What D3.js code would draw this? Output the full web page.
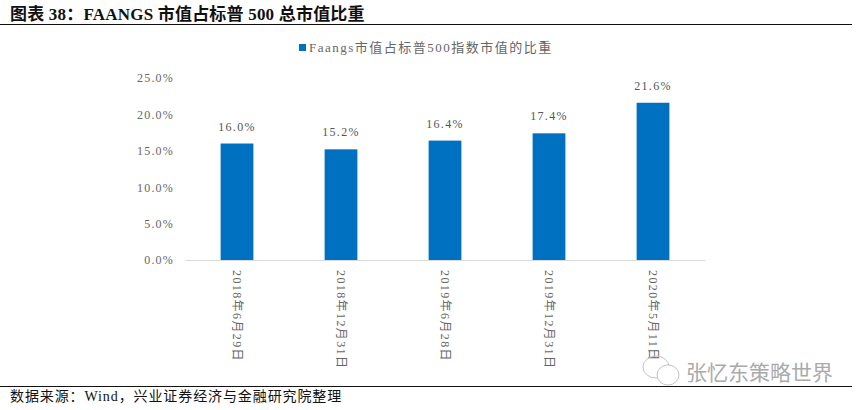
<!DOCTYPE html>
<html><head><meta charset="utf-8">
<script src="https://cdn.jsdelivr.net/npm/d3@7/dist/d3.min.js"></script>
<style>html,body{margin:0;padding:0;background:#fff}svg{display:block}</style>
</head><body><svg id="c" width="859" height="410"></svg>
<script>
const categories=["2018年6月29日","2018年12月31日","2019年6月28日","2019年12月31日","2020年5月11日"];
const values=[16.0,15.2,16.4,17.4,21.6];
const yTicks=[0,5,10,15,20,25];
const seriesName="Faangs市值占标普500指数市值的比重";
const titleText="图表 38\uFF1AFAANGS 市值占标普 500 总市值比重";
const sourceText="数据来源\uFF1AWind\uFF0C兴业证券经济与金融研究院整理";
const watermark="张忆东策略世界";
const serif="'Liberation Serif','Noto Sans CJK SC',serif";
const svg=d3.select("#c");
const m={left:185,right:705,top:78,bottom:260};
const x=d3.scaleBand().domain(categories).range([m.left,m.right]).paddingInner(0.685).paddingOuter(0.3425);
const y=d3.scaleLinear().domain([0,25]).range([m.bottom,m.top]);
svg.append("text").attr("x",10).attr("y",20).attr("font-family",serif).attr("font-weight",700).attr("font-size",17).attr("letter-spacing",0.2).attr("fill","#111").text(titleText);
svg.append("line").attr("x1",0).attr("x2",852).attr("y1",24.5).attr("y2",24.5).attr("stroke","#111").attr("stroke-width",1);
svg.append("line").attr("x1",0).attr("x2",852).attr("y1",386.5).attr("y2",386.5).attr("stroke","#111").attr("stroke-width",1);
svg.append("text").attr("x",10).attr("y",401).attr("font-family",serif).attr("font-size",14).attr("letter-spacing",0.9).attr("fill","#111").text(sourceText);
svg.append("rect").attr("x",299).attr("y",44).attr("width",7).attr("height",7).attr("fill","#0070c0");
svg.append("text").attr("x",309).attr("y",52).attr("font-family",serif).attr("font-size",13).attr("letter-spacing",1.5).attr("fill","#666").text(seriesName);
const yAxis=d3.axisLeft(y).tickValues(yTicks).tickSize(0).tickPadding(11).tickFormat(d=>d.toFixed(1)+"%");
const ya=svg.append("g").attr("transform",`translate(${m.left},0)`).call(yAxis);
ya.select(".domain").remove();
ya.selectAll("text").attr("font-family",serif).attr("font-size",12).attr("letter-spacing",1.2).attr("fill","#666");
svg.selectAll("rect.bar").data(values).join("rect").attr("class","bar")
 .attr("x",(d,i)=>x(categories[i])).attr("y",d=>y(d)).attr("width",x.bandwidth()).attr("height",d=>y(0)-y(d)).attr("fill","#0070c0");
svg.selectAll("text.val").data(values).join("text").attr("class","val")
 .attr("x",(d,i)=>x(categories[i])+x.bandwidth()/2).attr("y",d=>y(d)-13).attr("text-anchor","middle")
 .attr("font-family",serif).attr("font-size",12).attr("letter-spacing",1.3).attr("fill","#555").text(d=>d.toFixed(1)+"%");
const xAxis=d3.axisBottom(x).tickSize(0).tickPadding(0);
const xa=svg.append("g").attr("transform",`translate(0,${m.bottom})`).call(xAxis);
xa.select(".domain").attr("stroke","#d9d9d9").attr("stroke-width",1);
xa.selectAll(".tick text").attr("font-family",serif).attr("font-size",12).attr("letter-spacing",1.4).attr("fill","#666")
 .attr("text-anchor","start").attr("dy",0).attr("y",0)
 .attr("transform","translate(-4,10) rotate(90)");
const wm=svg.append("g").attr("fill","none").attr("stroke","#c4c4c4");
wm.append("ellipse").attr("cx",656).attr("cy",367).attr("rx",13).attr("ry",11);
wm.append("ellipse").attr("cx",668).attr("cy",375).attr("rx",11).attr("ry",10).attr("fill","#fff");
svg.append("text").attr("x",686).attr("y",380).attr("font-family","'Noto Sans CJK SC',sans-serif").attr("font-size",21).attr("fill","#aaa").text(watermark);
</script></body></html>
